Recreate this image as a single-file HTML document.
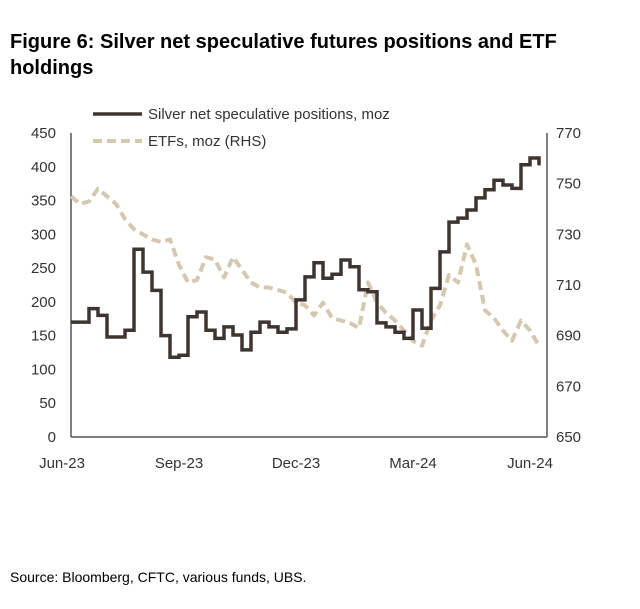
<!DOCTYPE html>
<html><head><meta charset="utf-8"><style>
body{margin:0;background:#fff;width:640px;height:609px;overflow:hidden;font-family:"Liberation Sans",sans-serif}
.t{position:absolute;left:10px;top:29px;font-weight:bold;font-size:20px;line-height:26px;color:#000}
.s{position:absolute;left:10px;top:569px;font-size:14px;color:#000}
</style></head><body>
<div class="t">Figure 6: Silver net speculative futures positions and ETF<br>holdings</div>
<svg id="c" width="640" height="609" style="position:absolute;left:0;top:0"></svg>
<div class="s">Source: Bloomberg, CFTC, various funds, UBS.</div>
<script>
const xLabels=["Jun-23","Sep-23","Dec-23","Mar-24","Jun-24"];
const leftTicks=[0,50,100,150,200,250,300,350,400,450];
const rightTicks=[650,670,690,710,730,750,770];
const silver=[170,170,190,180,148,148,158,278,244,217,150,118,121,178,185,158,146,163,151,129,155,170,163,155,160,203,237,258,235,241,262,252,218,215,169,163,155,146,188,161,220,274,318,324,336,354,366,380,373,368,403,413,402];
const etf=[745,742,743,748,745,742,736,732,730,728,727,728,718,711,712,721,720,713,721,716,711,709,709,708,707,703,702,698,703,697,696,695,693,711,703,699,696,692,688,686,696,702,714,711,726,718,700,697,692,688,696,692,686];
const NS="http://www.w3.org/2000/svg",svg=document.getElementById('c');
const x0=71,x1=547,yB=437,yT=133;
const X=i=>71+i*9;
const YL=v=>yB-(v/450)*(yB-yT);
const YR=v=>yB-((v-650)/120)*(yB-yT);
function el(t,a,txt){const e=document.createElementNS(NS,t);for(const k in a)e.setAttribute(k,a[k]);if(txt!==undefined)e.textContent=txt;svg.appendChild(e);return e;}
let e;
e=el('line',{x1:x0,y1:yT,x2:x0,y2:yB,stroke:'#555','stroke-width':1.5});


e=el('line',{x1:x1,y1:yT,x2:x1,y2:yB,stroke:'#555','stroke-width':1.5});


e=el('line',{x1:x0,y1:yB,x2:x1,y2:yB,stroke:'#555','stroke-width':1.5});


leftTicks.forEach(v=>{e=el('text',{x:56,y:YL(v)+5,'text-anchor':'end','font-size':15,fill:'#333'},v);

});
rightTicks.forEach(v=>{e=el('text',{x:556,y:YR(v)+5,'font-size':15,fill:'#333'},v);

});
xLabels.forEach((l,i)=>{e=el('text',{x:X(i*13)-9,y:468,'text-anchor':'middle','font-size':15,fill:'#333'},l);

});
let d='';etf.forEach((v,i)=>{d+=(i?'L':'M')+X(i)+','+YR(v);});
e=el('path',{d:d,fill:'none',stroke:'#d4c8b0','stroke-width':4,'stroke-dasharray':'9,5','stroke-linejoin':'round'});


d='';silver.forEach((v,i)=>{d+=(i?'L'+X(i)+','+YL(silver[i-1])+'L':'M')+X(i)+','+YL(v);});
e=el('path',{d:d,fill:'none',stroke:'#3f3530','stroke-width':3.5});


e=el('line',{x1:93,y1:114,x2:142,y2:114,stroke:'#3f3530','stroke-width':3.5});


e=el('text',{x:148,y:119,'font-size':15,fill:'#333'},'Silver net speculative positions, moz');


e=el('line',{x1:93,y1:141,x2:142,y2:141,stroke:'#d4c8b0','stroke-width':4,'stroke-dasharray':'9,5'});


e=el('text',{x:148,y:146,'font-size':15,fill:'#333'},'ETFs, moz (RHS)');


</script>
</body></html>
